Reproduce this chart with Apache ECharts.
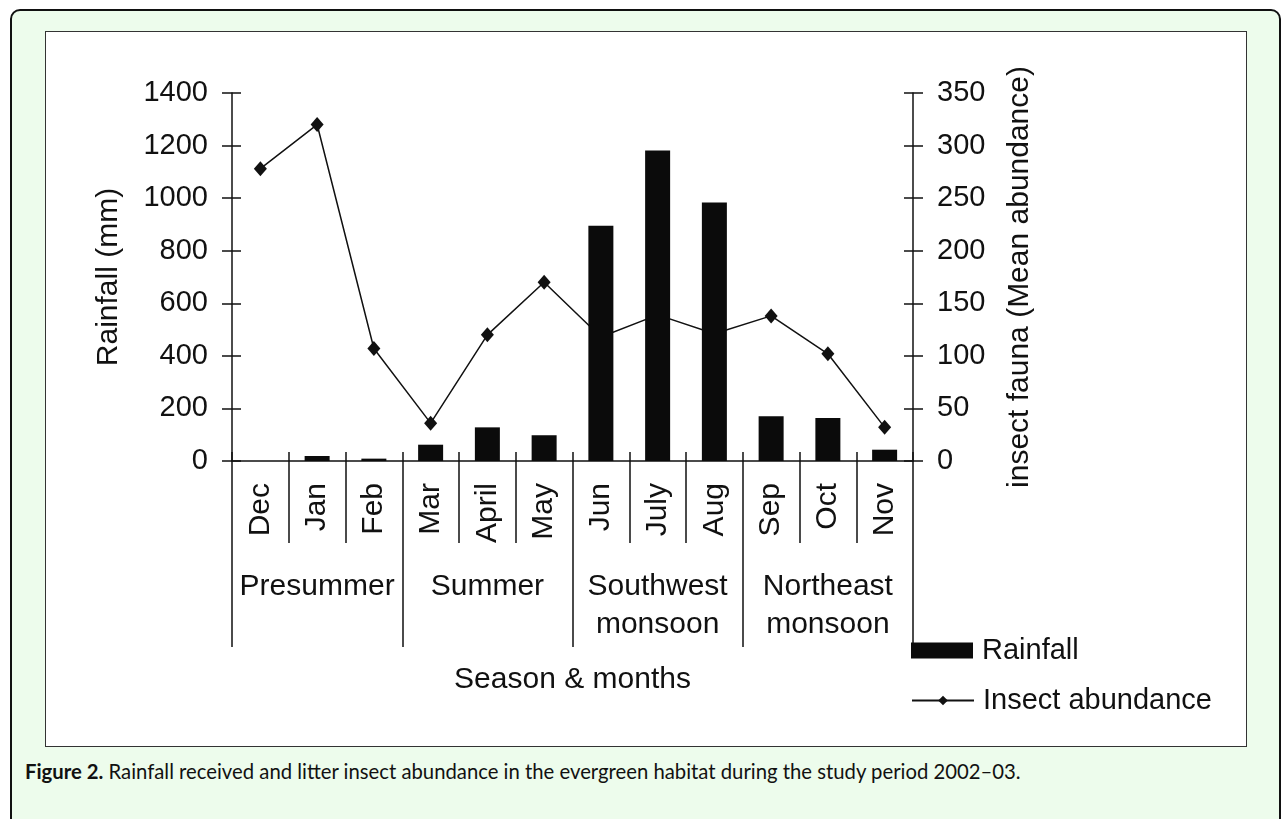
<!DOCTYPE html>
<html>
<head>
<meta charset="utf-8">
<script src="https://cdn.jsdelivr.net/npm/echarts@6/dist/echarts.min.js"></script>
<style>
  html, body { margin: 0; padding: 0; width: 1281px; height: 819px; overflow: hidden; background: #fff; }
  .outer {
    position: absolute; left: 10px; top: 9px; width: 1271px; height: 840px;
    box-sizing: border-box; border: 2px solid #111; border-radius: 10px; background: #edfcec;
  }
  .inner {
    position: absolute; left: 45px; top: 31px; width: 1202px; height: 716px;
    box-sizing: border-box; border: 1.5px solid #333; background: #fff;
  }
  .caption {
    position: absolute; left: 25px; top: 760px; font-family: Lato, "Open Sans", sans-serif;
    font-size: 20.3px; line-height: 22px; color: #111; white-space: nowrap;
  }
  .caption b { font-weight: bold; }
  #chart { position: absolute; left: 0; top: 0; width: 1281px; height: 819px; }
</style>
</head>
<body>
<div class="outer"></div>
<div class="inner"></div>
<div class="caption"><b>Figure 2.</b> Rainfall received and litter insect abundance in the evergreen habitat during the study period 2002–03.</div>
<div id="chart"></div>
<script>
  // data
  const months = ['Dec', 'Jan', 'Feb', 'Mar', 'April', 'May', 'Jun', 'July', 'Aug', 'Sep', 'Oct', 'Nov'];
  const seasons = ['Presummer', 'Summer', 'Southwest\nmonsoon', 'Northeast\nmonsoon'];
  const rainfall = [0, 19, 9, 62, 128, 98, 895, 1181, 983, 170, 164, 43];
  const insects = [278, 320, 107, 36, 120, 170, 118, 139, 121, 138, 102, 32];
  const rainMax = 1400, rainStep = 200;
  const insectMax = 350, insectStep = 50;

  const font = 'Liberation Sans, Arial, sans-serif';
  const ink = '#111';

  const chart = echarts.init(document.getElementById('chart'));

  function overlayY(pos, max, step) {
    // second copy of an axis, only to draw the inner half of the crossing ticks
    return {
      type: 'value', position: pos, min: 0, max: max, interval: step,
      axisLine: { show: false },
      axisTick: { show: true, inside: true, length: 9, lineStyle: { color: ink, width: 1.5 } },
      axisLabel: { show: false },
      splitLine: { show: false }
    };
  }

  let option = {
    animation: false,
    grid: { left: 232, top: 93, width: 681, height: 368 },
    legend: [
      {
        data: ['Rainfall'], left: 911, top: 636, padding: 0, icon: 'rect',
        itemWidth: 62, itemHeight: 16, selectedMode: false,
        textStyle: { fontFamily: font, fontSize: 29, color: ink, padding: [0, 0, 0, 4] }
      },
      {
        data: ['Insect abundance'], left: 911, top: 686, padding: 0,
        itemWidth: 62, itemHeight: 12, selectedMode: false,
        textStyle: { fontFamily: font, fontSize: 29, color: ink, padding: [0, 0, 0, 4] }
      }
    ],
    xAxis: [
      {
        type: 'category', data: months, position: 'bottom',
        axisLine: { lineStyle: { color: ink, width: 1.5 } },
        axisTick: { show: true, interval: 0, length: 82, lineStyle: { color: ink, width: 1.5 } },
        axisLabel: { interval: 0, rotate: 90, margin: 22, fontFamily: font, fontSize: 30, color: ink }
      },
      {
        type: 'category', data: seasons, position: 'bottom',
        name: 'Season & months', nameLocation: 'middle', nameGap: 204,
        nameTextStyle: { fontFamily: font, fontSize: 30, color: ink },
        axisLine: { show: false },
        axisTick: { show: true, interval: 0, length: 186, lineStyle: { color: ink, width: 1.5 } },
        axisLabel: { interval: 0, margin: 107, fontFamily: font, fontSize: 30, lineHeight: 38, color: ink }
      },
      {
        type: 'category', data: months, position: 'bottom',
        axisLine: { show: false },
        axisTick: { show: true, inside: true, interval: 0, length: 9, lineStyle: { color: ink, width: 1.5 } },
        axisLabel: { show: false }
      }
    ],
    yAxis: [
      {
        type: 'value', position: 'left', min: 0, max: rainMax, interval: rainStep,
        name: 'Rainfall (mm)', nameLocation: 'middle', nameGap: 108, nameRotate: 90,
        nameTextStyle: { fontFamily: font, fontSize: 30, color: ink },
        axisLine: { show: true, lineStyle: { color: ink, width: 1.5 } },
        axisTick: { show: true, length: 10, lineStyle: { color: ink, width: 1.5 } },
        axisLabel: { margin: 24, fontFamily: font, fontSize: 29, color: ink, formatter: (v) => String(v) },
        splitLine: { show: false }
      },
      {
        type: 'value', position: 'right', min: 0, max: insectMax, interval: insectStep,
        name: 'insect fauna (Mean abundance)', nameLocation: 'middle', nameGap: 92, nameRotate: 90,
        nameTextStyle: { fontFamily: font, fontSize: 30, color: ink },
        axisLine: { show: true, lineStyle: { color: ink, width: 1.5 } },
        axisTick: { show: true, length: 10, lineStyle: { color: ink, width: 1.5 } },
        axisLabel: { margin: 24, fontFamily: font, fontSize: 29, color: ink, formatter: (v) => String(v) },
        splitLine: { show: false }
      },
      overlayY('left', rainMax, rainStep),
      overlayY('right', insectMax, insectStep)
    ],
    series: [
      {
        name: 'Insect abundance', type: 'line', yAxisIndex: 1, z: 1,
        data: insects,
        symbol: 'diamond', symbolSize: [13, 15],
        lineStyle: { color: ink, width: 1.5 },
        itemStyle: { color: ink }
      },
      {
        name: 'Rainfall', type: 'bar', yAxisIndex: 0, z: 2,
        data: rainfall, barWidth: 25,
        itemStyle: { color: '#0b0b0b' }
      }
    ]
  };

  chart.setOption(option);
</script>
</body>
</html>
